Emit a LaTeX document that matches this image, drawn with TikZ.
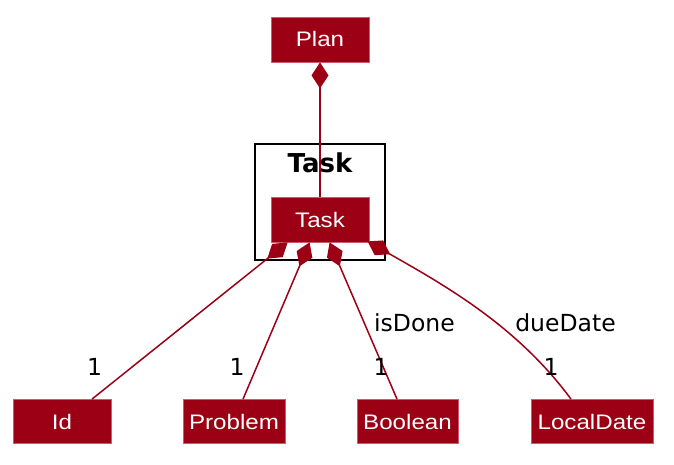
\documentclass[tikz,border=0pt]{standalone}
\usepackage{fontspec}
\setmainfont{DejaVu Sans}
\newfontfamily\boxfont[FakeStretch=1.15]{Liberation Sans}
\usetikzlibrary{arrows.meta}
\definecolor{umlred}{RGB}{155,0,20}
\definecolor{umlborder}{RGB}{205,90,110}
\begin{document}
\begin{tikzpicture}[x=1pt,y=-1pt,
  cls/.style={draw=umlborder, line width=0.8pt, fill=umlred, text=white,
    font=\boxfont\fontsize{21}{21}\selectfont, inner sep=0pt,
    text height=15pt, text depth=0pt, minimum height=45pt},
  comp/.style={draw=umlred, line width=1.5pt, {Diamond[length=26pt,width=17pt,fill=umlred]}-},
  lbl/.style={font=\fontsize{23.5}{24}\selectfont, inner sep=0pt, text height=17pt, text depth=0pt},
  pkg/.style={draw=black, line width=2.5pt, inner sep=0pt}
]
\useasboundingbox (0,0) rectangle (674,465);
% package frame and title
\node[pkg, minimum width=130pt, minimum height=116pt] (frame) at (320,202) {};
\node[font=\bfseries\fontsize{26}{26}\selectfont, inner sep=0pt, text height=19pt, text depth=0pt] (title) at (320,163) {Task};
% classes
\node[cls, minimum width=98pt] (plan) at (320,39.5) {Plan};
\node[cls, minimum width=98pt] (task) at (320,219.5) {Task};
\node[cls, minimum width=98pt, minimum height=44pt] (id) at (62,421.5) {Id};
\node[cls, minimum width=102pt, minimum height=44pt] (problem) at (234,421.5) {Problem};
\node[cls, minimum width=101pt, minimum height=44pt] (boolean) at (407.5,421.5) {Boolean};
\node[cls, minimum width=122pt, minimum height=44pt] (localdate) at (592,421.5) {LocalDate};
% connectors
\draw[comp] (plan.south) -- (task.north);
\draw[comp] ([xshift=17pt]task.south west) -- ([xshift=30pt]id.north);
\draw[comp] ([xshift=39pt]task.south west) -- ([xshift=9pt]problem.north);
\draw[comp] ([xshift=59pt]task.south west) -- ([xshift=-10.5pt]boolean.north);
\coordinate (ldstart) at ([xshift=97pt,yshift=1pt]task.south west);
\draw[comp] (ldstart) .. controls (446,286) and (517,326) .. ([xshift=-21pt]localdate.north);
% labels
\node[lbl] (m1) at (94.5,367) {1};
\node[lbl] (m2) at (237,367) {1};
\node[lbl] (m3) at (381,367) {1};
\node[lbl] (m4) at (551,367) {1};
\node[lbl] (isdone) at (414.5,323) {isDone};
\node[lbl] (duedate) at (565.5,323) {dueDate};
\end{tikzpicture}
\end{document}
